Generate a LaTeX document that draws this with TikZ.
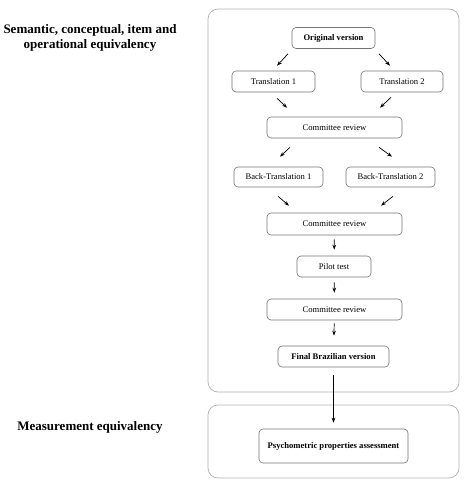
\documentclass[tikz,border=0pt]{standalone}
\usepackage{fontspec}
\setmainfont{Liberation Serif}
\usetikzlibrary{arrows.meta,calc}
\begin{document}
\begin{tikzpicture}[x=1pt,y=-1pt,
  stepbox/.style={draw=black!55, line width=0.6pt, rounded corners=4pt, inner sep=0pt,
    font=\fontsize{8.6}{10}\selectfont, align=center},
  groupbox/.style={draw=black!30, line width=0.7pt, rounded corners=10pt},
  arr/.style={-{Stealth[length=5pt,width=3.6pt]}, line width=0.7pt},
  side/.style={font=\fontsize{13}{15}\selectfont\bfseries, align=center}]
\useasboundingbox (0,0) rectangle (465,486);
\fill[white] (0,0) rectangle (465,486);
% group frames
\draw[groupbox] (208,9) rectangle (459,392);
\draw[groupbox] (208,405) rectangle (459,478);
% side labels
\node[side] (lab1) at (90,38) {Semantic, conceptual, item and\\operational equivalency};
\node[side] (lab2) at (90,427) {Measurement equivalency};
% steps
\node[stepbox, minimum width=83pt, minimum height=21pt, font=\fontsize{8.6}{10}\selectfont\bfseries] (orig) at (333.5,38) {Original version};
\node[stepbox, minimum width=83pt, minimum height=21pt] (t1) at (273.5,81.5) {Translation 1};
\node[stepbox, minimum width=82pt, minimum height=21pt] (t2) at (402,81.5) {Translation 2};
\node[stepbox, minimum width=135pt, minimum height=21pt] (cr1) at (334.5,127.5) {Committee review};
\node[stepbox, minimum width=89pt, minimum height=20pt] (bt1) at (278.5,177) {Back-Translation 1};
\node[stepbox, minimum width=89pt, minimum height=20pt] (bt2) at (390.5,177) {Back-Translation 2};
\node[stepbox, minimum width=135pt, minimum height=22pt] (cr2) at (334.5,224) {Committee review};
\node[stepbox, minimum width=74pt, minimum height=21pt] (pilot) at (334,266.5) {Pilot test};
\node[stepbox, minimum width=135pt, minimum height=21pt] (cr3) at (334.5,309.5) {Committee review};
\node[stepbox, minimum width=111pt, minimum height=21pt, font=\fontsize{8.6}{10}\selectfont\bfseries] (final) at (333.5,356.5) {Final Brazilian version};
\node[stepbox, minimum width=149pt, minimum height=34pt, font=\fontsize{8.6}{10}\selectfont\bfseries] (psy) at (333.5,446) {Psychometric properties assessment};
% arrows
\draw[arr] ($(orig.south)+(-45.5,5)$) -- ($(t1.north)+(3.5,-5)$);
\draw[arr] ($(orig.south)+(45.5,5)$) -- ($(t2.north)+(-12,-5)$);
\draw[arr] ($(t1.south)+(3.5,6)$) -- ($(cr1.north)+(-47.5,-9)$);
\draw[arr] ($(t2.south)+(-11,5)$) -- ($(cr1.north)+(45.5,-9)$);
\draw[arr] ($(cr1.south)+(-44.5,9)$) -- ($(bt1.north)+(1.5,-10)$);
\draw[arr] ($(cr1.south)+(44.5,9)$) -- ($(bt2.north)+(1.5,-10)$);
\draw[arr] ($(bt1.south)+(-0.5,9)$) -- ($(cr2.north)+(-45.5,-7)$);
\draw[arr] ($(bt2.south)+(2.5,9)$) -- ($(cr2.north)+(46.5,-7)$);
\draw[arr, shorten <=4pt, shorten >=6pt] (cr2) -- (pilot);
\draw[arr, shorten <=5pt, shorten >=6pt] (pilot) -- (cr3);
\draw[arr, shorten <=3pt, shorten >=10pt] (cr3) -- (final);
\draw[arr, shorten <=8pt, shorten >=6pt] (final) -- (psy);
\end{tikzpicture}
\end{document}
